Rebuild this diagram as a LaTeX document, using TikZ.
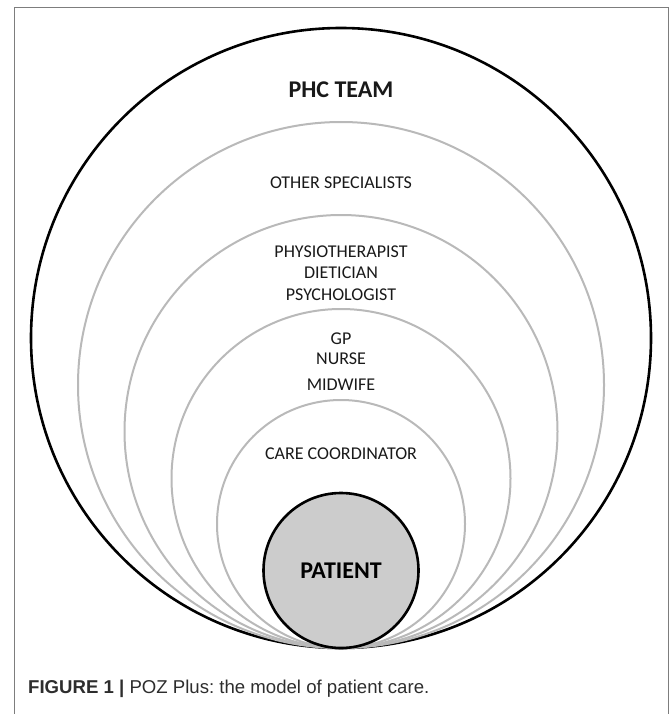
\documentclass[tikz,border=0pt]{standalone}
\usepackage{fontspec}
\setmainfont{Carlito}
\newfontfamily\captionfont{Liberation Sans}
\usetikzlibrary{positioning}
\definecolor{ringgray}{RGB}{185,185,185}
\definecolor{patientgray}{RGB}{204,204,204}
\definecolor{framegray}{RGB}{125,125,125}
\definecolor{captiongray}{RGB}{45,45,45}
\frenchspacing

\begin{document}
\begin{tikzpicture}[
  x=1pt, y=-1pt,
  ring/.style={draw=ringgray, line width=2pt, circle, inner sep=0pt, outer sep=0pt, anchor=south},
  team/.style={ring, draw=black, line width=2.6pt},
  core/.style={ring, draw=black, line width=2.6pt, fill=patientgray, font=\fontsize{24}{28}\selectfont\bfseries},
  lbl/.style={align=center, inner sep=0pt, font=\fontsize{18}{21.5}\selectfont, text=black!90},
  head/.style={lbl, font=\fontsize{24}{28}\selectfont\bfseries}
]
\useasboundingbox (0,0) rectangle (669,714);
\draw[framegray, line width=1pt] (14,714) -- (14,8) -- (668,8) -- (668,714);

\coordinate (base) at (341,648);
\node[team, minimum size=620pt] (phc) at (base) {};
\node[ring, minimum size=526pt] (specialists) at (base) {};
\node[ring, minimum size=433pt] (therapists) at (base) {};
\node[ring, minimum size=339pt] (primary) at (base) {};
\node[ring, minimum size=248pt] (coordinator) at (base) {};
\node[core, minimum size=155pt] (patient) at (base) {PATIENT};

\node[head] (phclabel) at (341,90) {PHC TEAM};
\node[lbl] (speclabel) at (341,183) {OTHER SPECIALISTS};
\node[lbl] (therlabel) at (341,273) {PHYSIOTHERAPIST\\DIETICIAN\\PSYCHOLOGIST};
\node[lbl, font=\fontsize{18}{19.5}\selectfont] (primlabel) at (341,362) {GP\\NURSE\\[7pt]MIDWIFE};
\node[lbl] (coordlabel) at (341,454) {CARE COORDINATOR};

\node[anchor=base west, inner sep=0pt, text=captiongray, font=\captionfont\fontsize{18.6}{22}\selectfont] (caption) at (28,693) {\textbf{FIGURE 1 |} POZ Plus: the model of patient care.};
\end{tikzpicture}
\end{document}
